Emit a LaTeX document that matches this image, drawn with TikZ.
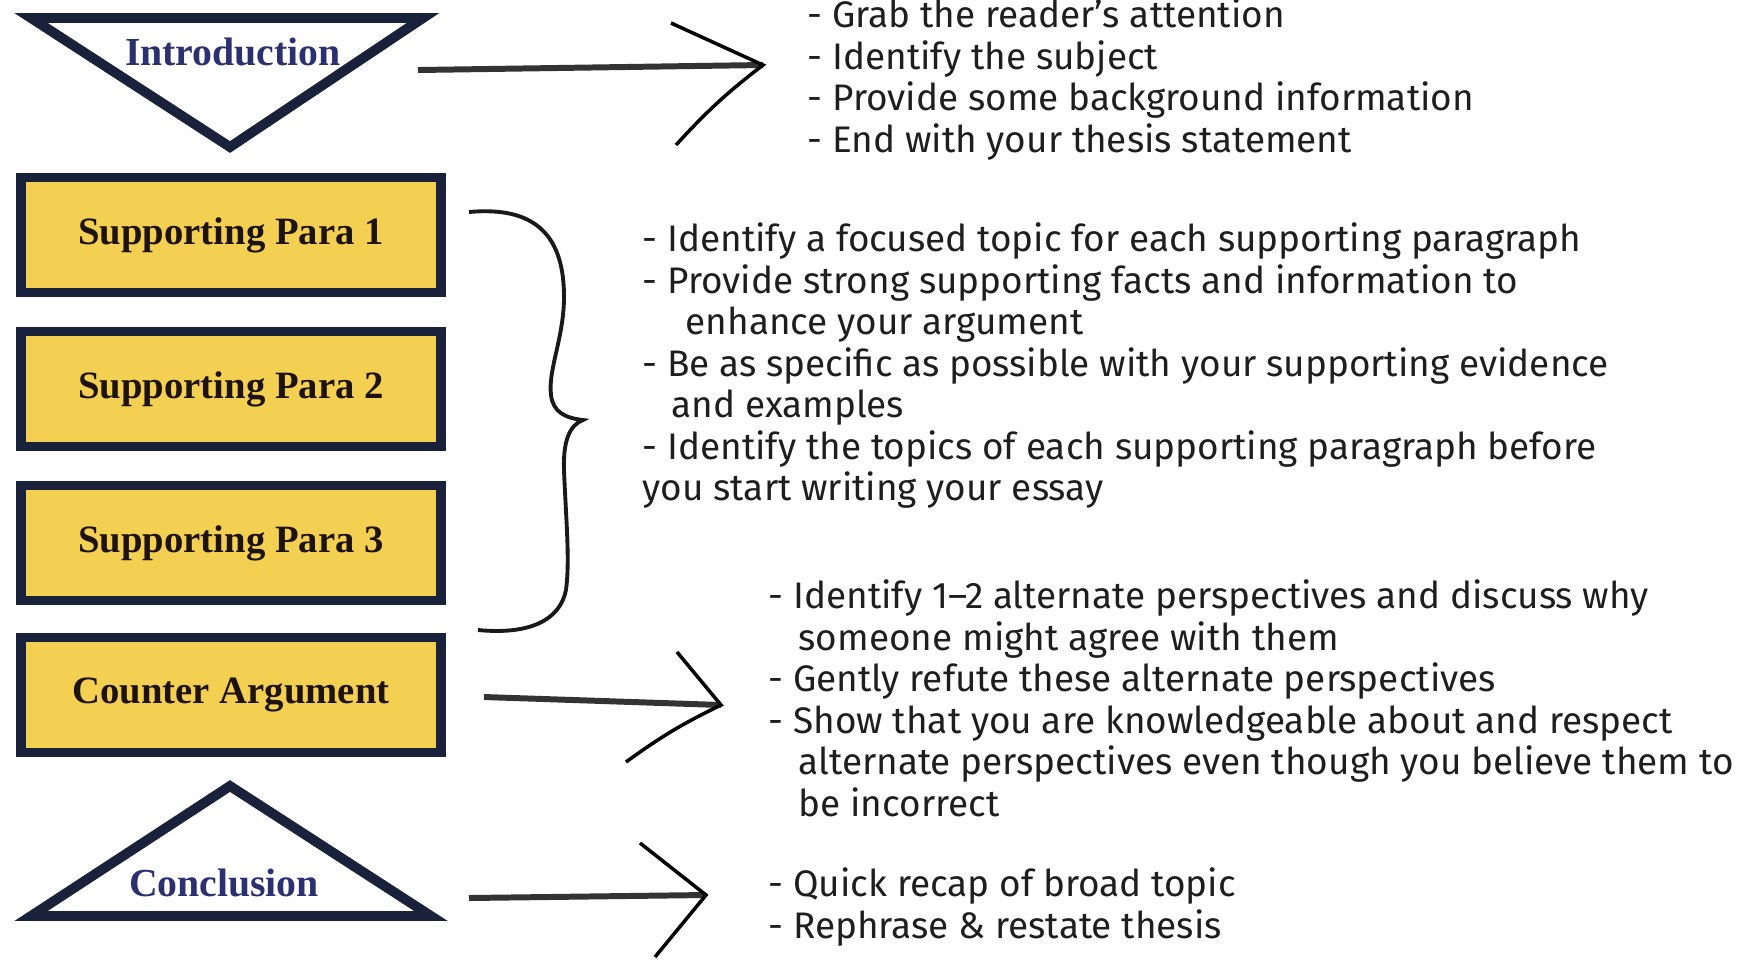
\documentclass[tikz,border=0pt]{standalone}
\usepackage{fontspec}
\setmainfont{Liberation Serif}
\setsansfont{Fira Sans}
\definecolor{paraYellow}{HTML}{F3CF52}
\definecolor{frameNavy}{HTML}{19213B}
\definecolor{titleNavy}{HTML}{2B3170}
\definecolor{noteInk}{HTML}{1E1E1E}
\tikzset{
  parabox/.style={draw=frameNavy, fill=paraYellow, line width=2.8pt, minimum width=4.2cm, minimum height=1.15cm, inner sep=0pt, text=black!85!brown, font=\rmfamily\bfseries\fontsize{11}{13}\selectfont},
  tribox/.style={draw=frameNavy, fill=white, line width=2.8pt, line join=miter},
  trilabel/.style={text=titleNavy, inner sep=0pt, font=\rmfamily\bfseries\fontsize{11.3}{13}\selectfont},
  notes/.style={anchor=north west, align=left, inner sep=0pt, text=noteInk, font=\sffamily\fontsize{10.5}{11.8}\selectfont},
  shaft/.style={line width=1.7pt, black!80},
  headline/.style={line width=1pt, black},
  braceline/.style={line width=1.1pt, black!90}
}
\begin{document}
\begin{tikzpicture}[x=0.01cm, y=-0.01cm]
    \useasboundingbox (0,0) rectangle (1750,959);

    %Introduction (triangle pointing down)
    \draw[tribox] (31,18) -- (423,18) -- (230,147) -- cycle;
    \node[trilabel] (intro) at (233,52) {Introduction};

    %body paragraphs
    \node[parabox] (para1) at (231,235) {Supporting Para 1};
    \node[parabox] (para2) at (231,389) {Supporting Para 2};
    \node[parabox] (para3) at (231,543) {Supporting Para 3};
    \node[parabox] (counter) at (231,695) {Counter Argument};

    %Conclusion (triangle pointing up)
    \draw[tribox] (31,916) -- (431,916) -- (230,786) -- cycle;
    \node[trilabel] (concl) at (224,883) {Conclusion};

    %notes
    \node[notes] (introNotes) at (807,-2) {- Grab the reader's attention\\- Identify the subject\\- Provide some background information\\- End with your thesis statement};
    \node[notes] (paraNotes) at (642,222) {- Identify a focused topic for each supporting paragraph\\- Provide strong supporting facts and information to\\\hspace*{0.43cm}enhance your argument\\- Be as specific as possible with your supporting evidence\\\hspace*{0.29cm}and examples\\- Identify the topics of each supporting paragraph before\\you start writing your essay};
    \node[notes] (counterNotes) at (768,579) {- Identify 1–2 alternate perspectives and discuss why\\\hspace*{0.30cm}someone might agree with them\\- Gently refute these alternate perspectives\\- Show that you are knowledgeable about and respect\\\hspace*{0.30cm}alternate perspectives even though you believe them to\\\hspace*{0.30cm}be incorrect};
    \node[notes] (conclNotes) at (768,867) {- Quick recap of broad topic\\- Rephrase \& restate thesis};

    %arrow intro
    \coordinate (introTail) at (418,70);
    \coordinate (introTip) at (763,65);
    \coordinate (introUp) at (671,23);
    \coordinate (introLow) at (676,145);
    \draw[shaft] (introTail) -- (introTip);
    \draw[headline] (introUp) -- (introTip) to[bend right=5] (introLow);

    %arrow counter
    \coordinate (counterTail) at (484,697);
    \coordinate (counterTip) at (721,705);
    \coordinate (counterUp) at (677,652);
    \coordinate (counterLow) at (626,762);
    \draw[shaft] (counterTail) -- (counterTip);
    \draw[headline] (counterUp) -- (counterTip) to[bend right=5] (counterLow);

    %arrow conclusion
    \coordinate (conclTail) at (469,898);
    \coordinate (conclTip) at (706,895);
    \coordinate (conclUp) at (640,843);
    \coordinate (conclLow) at (655,957);
    \draw[shaft] (conclTail) -- (conclTip);
    \draw[headline] (conclUp) -- (conclTip) -- (conclLow);

    %brace for the supporting paras
    \draw[braceline] (469,212) .. controls (535,206) and (565,235) .. (564,300)
        .. controls (563,340) and (548,370) .. (551,395)
        .. controls (553,412) and (565,418) .. (583,420)
        .. controls (570,425) and (563,440) .. (564,470)
        .. controls (566,520) and (570,560) .. (566,590)
        .. controls (560,620) and (530,635) .. (478,630);
\end{tikzpicture}
\end{document}
